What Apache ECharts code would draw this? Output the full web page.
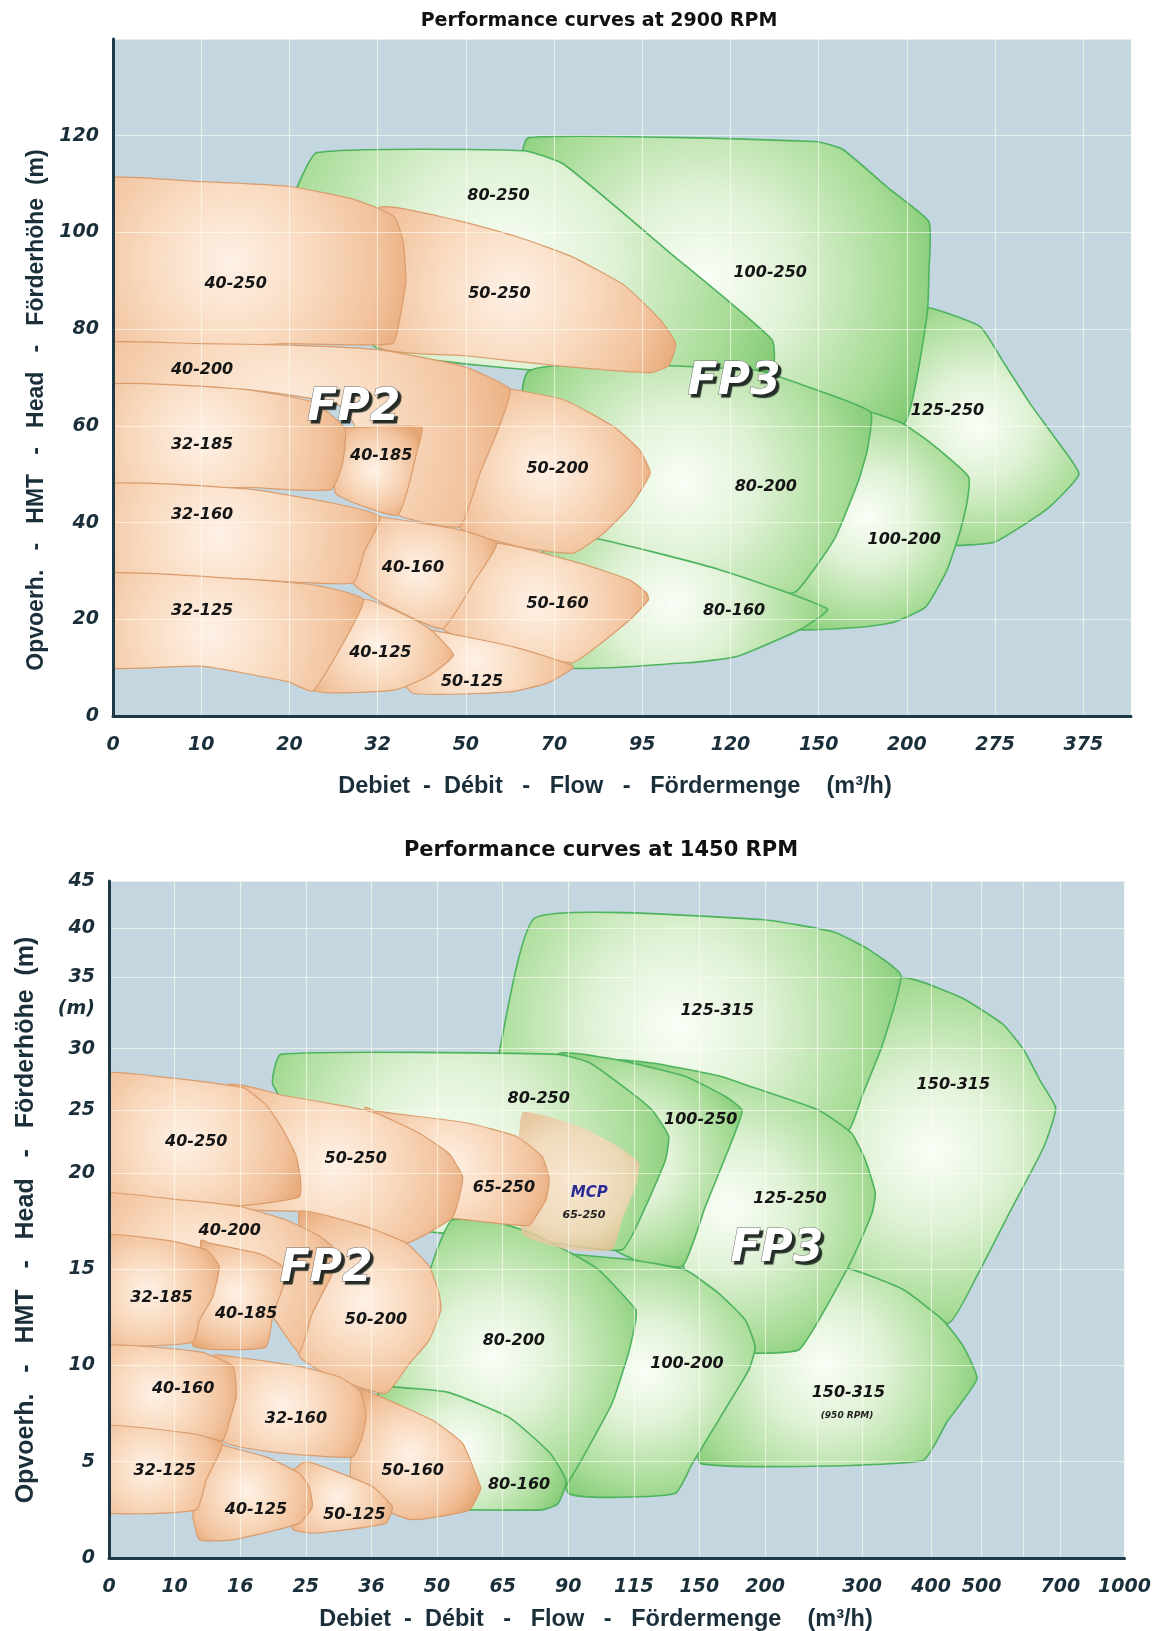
<!DOCTYPE html>
<html><head><meta charset="utf-8">
<script src="https://cdn.jsdelivr.net/npm/echarts@6/dist/echarts.min.js"></script>
<style>html,body{margin:0;padding:0;background:#fff}#c{width:1154px;height:1631px}</style>
</head><body><div id="c"></div>
<script>
// ===== Top chart (2900 RPM): x = position of flow tick (0..11), y = head (m) =====
const topXLabels = ['0','10','20','32','50','70','95','120','150','200','275','375'];

const T_125_250 = [[8.9,85],[9.3,84.2],[9.83,80.5],[10.1,73],[10.4,64.5],[10.7,57],[10.95,50],[10.6,43],[10.0,36],[9.5,35.2],[9.1,35.2],[8.85,50]];
const T_100_250 = [[4.6,112],[4.71,119.6],[7.96,118.8],[8.27,117.2],[8.8,109],[9.25,102.2],[9.25,92],[9.23,83.3],[9.12,70.7],[8.96,60.4],[7.5,63],[5.5,68],[4.6,90]];
const T_100_200 = [[8.0,64],[8.59,62.8],[8.96,60.4],[9.3,56],[9.7,49.4],[9.68,44],[9.6,38],[9.45,30],[9.21,22.5],[8.85,19.4],[8.5,18.4],[7.6,18.4],[7.6,40]];
const T_80_250 = [[2.0,104],[2.06,108.2],[2.31,116.5],[4.66,116.9],[5.11,114.1],[6.3,96],[7.47,77.8],[7.47,71.5],[6.0,70],[3.0,76]];
const T_80_200 = [[4.71,71.3],[7.29,71.5],[7.96,67.5],[8.59,62.8],[8.55,55],[8.45,48.6],[8.18,36.7],[7.74,25.7],[7.3,25],[5.5,32],[4.71,40]];
const T_80_160 = [[4.9,36.5],[5.47,36.7],[6.85,30.4],[8.1,22.1],[7.8,18],[7.07,12.3],[6.5,11],[4.9,10.7]];
const T_50_250 = [[3.0,105],[3.9,102.5],[4.6,99],[5.2,95],[5.8,89],[6.2,82],[6.38,77],[6.3,72.5],[6.1,71],[5.0,72.5],[4.0,74.5],[3.0,76.5]];
const T_50_200 = [[4.3,68],[4.54,67.5],[5.11,65.4],[5.67,59.9],[5.97,55],[6.09,50.2],[5.86,43.3],[5.56,37.8],[5.22,33.7],[4.6,35],[3.9,39.5],[4.0,65]];
const T_50_160 = [[4.35,35.7],[5.29,31.6],[5.86,28.1],[6.05,25.4],[6.07,24],[5.86,19.9],[5.48,14.3],[5.2,11],[4.4,14],[3.74,18],[3.9,30]];
const T_50_125 = [[3.3,18],[3.59,17.8],[4.54,14.3],[5.22,10.2],[4.92,6.8],[4.5,5],[3.4,4.7],[3.2,10]];
const T_40_250 = [[-0.3,110.5],[1,110.5],[2,109.5],[2.7,107],[3,105],[3.2,103],[3.29,98],[3.32,90],[3.25,82],[3.17,77],[2,77],[-0.3,77]];
const T_40_200 = [[-0.3,77],[1,77],[2,76.7],[3.03,75.7],[3.97,72.3],[4.5,67.5],[4.35,58.5],[4.16,50.2],[3.93,39.2],[3.23,41.6],[3.0,50],[2.6,64],[1.5,67.5],[-0.3,68]];
const T_40_185 = [[2.5,60],[2.65,59.6],[3.5,59.8],[3.45,55],[3.23,41.6],[2.52,46.1],[2.55,55]];
const T_40_160 = [[2.72,42],[3.03,41.2],[3.93,38.5],[4.35,35.7],[4.1,28],[3.74,18.1],[3.2,22],[2.72,27.5]];
const T_40_125 = [[2.84,24],[3.3,21],[3.59,18],[3.86,12.6],[3.6,8.5],[3.2,5.4],[2.27,5.4]];
const T_32_185 = [[-0.3,68],[1.46,67.6],[2.27,64.9],[2.63,59.4],[2.6,52],[2.47,46.8],[1.5,47.3],[-0.3,47.5]];
const T_32_160 = [[-0.3,47.5],[1.5,47],[2.5,44],[3.03,41.2],[2.85,34],[2.72,27.5],[1.5,28.3],[-0.3,29]];
const T_32_125 = [[-0.3,29],[1.5,28.3],[2.3,27],[2.84,24],[2.27,5.2],[1.98,7.1],[1,10.3],[-0.3,10.5]];

// back-to-front drawing order
const topShapes = [T_125_250,T_100_250,T_100_200,T_80_250,T_80_200,T_80_160,T_50_250,T_50_200,T_50_160,T_50_125,T_40_250,T_40_200,T_40_185,T_40_160,T_40_125,T_32_185,T_32_160,T_32_125];
const topFamilies = ['FP3','FP3','FP3','FP3','FP3','FP3','FP2','FP2','FP2','FP2','FP2','FP2','FP2','FP2','FP2','FP2','FP2','FP2'];

const topLabelNames = ['80-250','40-250','50-250','100-250','40-200','125-250','32-185','40-185','50-200','80-200','100-200','32-160','40-160','50-160','80-160','32-125','40-125','50-125'];
const topLabelX = [4.37,1.39,4.38,7.45,1.01,9.46,1.01,3.04,5.04,7.40,8.97,1.01,3.40,5.04,7.04,1.01,3.03,4.07];
const topLabelY = [107.5,89.4,87.3,91.6,71.6,63.2,56.0,53.7,51.1,47.3,36.5,41.7,30.6,23.2,21.8,21.7,13.1,7.1];
const topBigNames = ['FP2','FP3'];
const topBigX = [2.73,7.04];
const topBigY = [63.5,69.0];

// ===== Bottom chart (1450 RPM): x,y = positions on the non-uniform tick scales =====
const botXLabels = ['0','10','16','25','36','50','65','90','115','150','200','','300','400','500','','700','1000'];
const botXTickPos = [0,1,2,3,4,5,6,7,8,9,10,10.80,11.48,12.53,13.30,13.94,14.50,15.48];
const botYLabels = ['0','5','10','15','20','25','30','35','40','45'];
const botYTickPos = [0,1,2,3,4,4.65,5.29,6.03,6.54,7.03];
const botYUnitPos = 5.70; // "(m)"

const B_150_315U = [[11.0,4.4],[12.07,6.02],[12.4,5.98],[13.02,5.81],[13.63,5.54],[13.94,5.28],[14.19,4.96],[14.43,4.67],[14.25,4.27],[13.76,3.63],[13.2,2.89],[12.8,2.44],[11.5,2.6],[11.0,3.0]];
const B_150_315L = [[9.5,2.9],[10.56,3.02],[11.3,3.0],[12.1,2.79],[12.71,2.47],[13.02,2.2],[13.23,1.86],[12.77,1.41],[12.4,1.01],[9.02,0.98],[9.0,1.5]];
const B_125_315 = [[5.94,5.23],[6.5,6.65],[9.94,6.63],[11.05,6.5],[11.6,6.31],[12.07,6.05],[11.79,5.33],[11.48,4.8],[11.27,4.44],[10.5,4.4],[7,4.6],[5.9,5.0]];
const B_125_250 = [[7.6,5.15],[8.28,5.14],[9.33,5.0],[9.8,4.89],[10.82,4.65],[11.32,4.41],[11.53,4.13],[11.68,3.79],[11.63,3.58],[11.32,3.09],[10.82,2.47],[10.51,2.16],[9.8,2.13],[9.2,2.3],[8.5,3.5]];
const B_100_250 = [[6.5,4.8],[6.86,5.24],[7.77,5.17],[8.79,5.0],[9.4,4.79],[9.65,4.65],[9.5,4.34],[9.09,3.65],[8.74,3.03],[8.0,3.1],[7.0,3.5]];
const B_100_200 = [[6.8,3.2],[7.01,3.16],[8.03,3.09],[8.79,2.99],[9.29,2.75],[9.7,2.47],[9.85,2.19],[9.75,1.95],[9.29,1.43],[8.89,0.98],[8.63,0.67],[7.01,0.67],[6.8,1.5]];
const B_80_250 = [[2.5,4.91],[2.62,5.23],[6.84,5.23],[7.3,5.15],[7.77,4.93],[8.28,4.65],[8.53,4.38],[8.48,4.13],[8.18,3.65],[7.82,3.2],[6.5,3.3],[4,3.5]];
const B_80_200 = [[5.0,3.2],[5.23,3.51],[5.95,3.48],[6.45,3.37],[7.06,3.16],[7.47,2.99],[8.03,2.58],[8.03,2.47],[7.92,2.13],[7.67,1.61],[7.26,1.09],[6.96,0.74],[6.87,0.66],[5.5,0.66],[4.5,1.0],[4.1,1.72],[4.6,2.4]];
const B_80_160 = [[4.1,1.75],[4.24,1.78],[5.17,1.72],[6.1,1.46],[6.72,1.09],[6.97,0.8],[6.84,0.56],[6.6,0.5],[5.54,0.5],[4.3,0.5]];
const B_MCP = [[6.3,4.62],[7.17,4.48],[7.77,4.27],[8.08,4.1],[8.03,3.86],[7.82,3.51],[7.67,3.2],[7.01,3.2],[6.3,3.37]];
const B_65_250 = [[3.9,4.68],[4.07,4.64],[5.44,4.52],[6.2,4.38],[6.6,4.17],[6.71,3.93],[6.66,3.72],[6.5,3.54],[6.4,3.45],[5.23,3.53],[4.5,3.6]];
const B_50_250 = [[1.81,4.91],[2.68,4.8],[3.61,4.69],[4.07,4.62],[4.73,4.41],[5.18,4.2],[5.39,3.96],[5.34,3.75],[5.23,3.53],[4.53,3.27],[3.92,3.44],[2.9,3.6],[2.0,3.65]];
const B_50_200 = [[2.9,3.6],[3.92,3.44],[4.53,3.27],[4.88,3.03],[5.03,2.75],[5.06,2.58],[4.88,2.26],[4.58,2.02],[4.22,1.71],[3.5,1.85],[2.9,2.1],[3.0,3.0]];
const B_50_160 = [[3.8,1.75],[4.02,1.71],[4.93,1.43],[5.39,1.19],[5.64,0.78],[5.67,0.72],[5.49,0.5],[4.6,0.4],[3.7,0.7]];
const B_50_125 = [[2.8,0.9],[3.0,1.0],[3.41,0.91],[4.02,0.74],[4.32,0.53],[4.22,0.36],[3.15,0.26],[2.8,0.3]];
const B_40_250 = [[-0.3,5.02],[1,4.98],[1.81,4.91],[2.06,4.88],[2.4,4.7],[2.65,4.45],[2.85,4.18],[2.92,3.93],[2.9,3.75],[2,3.66],[-0.3,3.79]];
const B_40_200 = [[-0.3,3.79],[0.94,3.73],[1.99,3.65],[2.7,3.51],[3.21,3.34],[3.51,3.16],[3.36,2.89],[3.1,2.54],[2.9,2.13],[2.5,2.5],[1.5,3.2],[-0.3,3.3]];
const B_40_185 = [[1.4,3.3],[1.53,3.27],[2.29,3.16],[2.7,3.0],[2.62,2.75],[2.5,2.54],[2.39,2.19],[1.28,2.2],[1.4,2.8]];
const B_32_185 = [[-0.3,3.34],[0.87,3.3],[1.48,3.2],[1.68,3.03],[1.58,2.71],[1.38,2.47],[1.28,2.24],[0.5,2.2],[-0.3,2.19]];
const B_32_160 = [[1.6,2.1],[1.89,2.09],[2.9,1.99],[3.51,1.88],[3.82,1.74],[3.92,1.5],[3.86,1.26],[3.71,1.05],[2.5,1.1],[1.73,1.22]];
const B_40_160 = [[-0.3,2.19],[1.38,2.14],[1.89,1.99],[1.94,1.68],[1.84,1.43],[1.73,1.22],[1,1.3],[-0.3,1.36]];
const B_40_125 = [[1.6,1.2],[1.79,1.16],[2.39,1.05],[2.9,0.88],[3.05,0.74],[3.1,0.53],[2.9,0.36],[1.89,0.19],[1.38,0.19],[1.28,0.46]];
const B_32_125 = [[-0.3,1.36],[1.28,1.29],[1.73,1.19],[1.48,0.81],[1.33,0.5],[-0.3,0.5]];

const botShapes = [B_150_315U,B_150_315L,B_125_315,B_125_250,B_100_250,B_100_200,B_80_250,B_80_200,B_80_160,B_MCP,B_65_250,B_50_250,B_50_200,B_50_160,B_50_125,B_40_250,B_40_200,B_40_185,B_32_185,B_32_160,B_40_160,B_40_125,B_32_125];
const botFamilies = ['FP3','FP3','FP3','FP3','FP3','FP3','FP3','FP3','FP3','MCP','FP2','FP2','FP2','FP2','FP2','FP2','FP2','FP2','FP2','FP2','FP2','FP2','FP2'];

const botLabelNames = ['125-315','150-315','80-250','100-250','40-250','50-250','65-250','125-250','40-200','32-185','40-185','50-200','80-200','100-200','40-160','32-160','150-315','32-125','50-160','80-160','40-125','50-125'];
const botLabelX = [9.27,12.87,6.55,9.02,1.33,3.76,6.02,10.38,1.84,0.80,2.09,4.07,6.17,8.81,1.13,2.85,11.27,0.85,4.63,6.25,2.24,3.74];
const botLabelY = [5.68,4.91,4.77,4.55,4.32,4.14,3.84,3.73,3.40,2.70,2.54,2.47,2.26,2.02,1.76,1.45,1.71,0.91,0.91,0.76,0.50,0.45];
const botSmallNames = ['MCP','65-250','(950 RPM)'];
const botSmallX = [7.32,7.24,11.25];
const botSmallY = [3.79,3.56,1.48];
const botBigNames = ['FP2','FP3'];
const botBigX = [3.31,10.18];
const botBigY = [2.99,3.20];

// ===== styling / rendering =====
const AXC = '#1E3A48';
const TXT = '#1B2F3A';
const GRIDC = 'rgba(255,255,245,0.6)';
const ORANGE = [[0,'#FEF1E6'],[0.4,'#F9DBC1'],[0.75,'#F2C39E'],[1,'#E6A673']];
const GREEN = [[0,'#FAFEF7'],[0.35,'#E0F2D6'],[0.75,'#A9DC98'],[1,'#7CC86F']];
const MCPC = [[0,'rgba(250,230,210,0.95)'],[0.6,'rgba(244,216,186,0.85)'],[1,'rgba(230,182,138,0.75)']];

function regionRender(shapes, fams) {
  return function (params, api) {
    const i = params.dataIndex;
    const pts = shapes[i].map(p => api.coord(p));
    let x0 = 1e9, x1 = -1e9, y0 = 1e9, y1 = -1e9;
    pts.forEach(p => { x0 = Math.min(x0, p[0]); x1 = Math.max(x1, p[0]); y0 = Math.min(y0, p[1]); y1 = Math.max(y1, p[1]); });
    const w = x1 - x0, h = y1 - y0;
    const fam = fams[i];
    const stops = fam === 'FP3' ? GREEN : (fam === 'MCP' ? MCPC : ORANGE);
    const grad = new echarts.graphic.RadialGradient(x0 + 0.45 * w, y0 + 0.5 * h, 0.62 * Math.max(w, h),
      stops.map(s => ({ offset: s[0], color: s[1] })), true);
    return {
      type: 'polygon',
      shape: { points: pts, smooth: 0.15 },
      style: {
        fill: grad,
        stroke: fam === 'FP3' ? '#4DB35E' : (fam === 'MCP' ? 'rgba(0,0,0,0)' : '#DA9C6C'),
        lineWidth: fam === 'FP3' ? 1.6 : 1.2
      }
    };
  };
}

function labelRender(names, kind) {
  return function (params, api) {
    const p = api.coord([api.value(0), api.value(1)]);
    const t = names[params.dataIndex];
    if (kind === 'big') {
      return { type: 'text', x: p[0], y: p[1], style: {
        text: t, fill: '#FFFFFF', stroke: '#6E6E6E', lineWidth: 1,
        font: 'italic bold 44px "DejaVu Sans"', align: 'center', verticalAlign: 'middle',
        textShadowColor: 'rgba(25,35,30,0.95)', textShadowOffsetX: 3, textShadowOffsetY: 3, textShadowBlur: 1 } };
    }
    if (kind === 'small') {
      let font = 'italic bold 11px "DejaVu Sans"', fill = '#222', stroke = null, lw = 0;
      if (t === 'MCP') { font = 'italic bold 15px "DejaVu Sans"'; fill = '#2B2C8C'; stroke = '#F4E0F0'; lw = 1; }
      if (t === '(950 RPM)') { font = 'italic bold 9px "DejaVu Sans"'; }
      return { type: 'text', x: p[0], y: p[1], style: { text: t, fill: fill, stroke: stroke, lineWidth: lw, font: font, align: 'center', verticalAlign: 'middle' } };
    }
    return { type: 'text', x: p[0], y: p[1], style: {
      text: t, fill: '#151515', font: 'italic bold 16px "DejaVu Sans"', align: 'center', verticalAlign: 'middle' } };
  };
}

const axisLbl = { color: TXT, fontSize: 19, fontWeight: 'bold', fontStyle: 'italic', fontFamily: 'DejaVu Sans' };
function near(a, b) { return Math.abs(a - b) < 1e-3; }

const chart = echarts.init(document.getElementById('c'), null, { renderer: 'canvas', width: 1154, height: 1631 });

const botXLabelPos = botXTickPos.filter((p, i) => botXLabels[i] !== '');
const xTitle = 'Debiet  -  Débit   -   Flow   -   Fördermenge    (m³/h)';
const yTitle = 'Opvoerh.   -   HMT   -   Head   -   Förderhöhe  (m)';

chart.setOption({
  animation: false,
  backgroundColor: '#FFFFFF',
  grid: [
    { left: 113, right: 23, top: 39, height: 677, show: true, backgroundColor: '#C4D6DF', borderWidth: 0 },
    { left: 109, right: 27, top: 881, height: 677, show: true, backgroundColor: '#C4D6DF', borderWidth: 0 }
  ],
  xAxis: [
    { gridIndex: 0, type: 'value', min: 0, max: 11.54, interval: 1, z: 3,
      axisLine: { show: true, onZero: false, lineStyle: { color: AXC, width: 3 } },
      axisTick: { show: false },
      splitLine: { show: true, lineStyle: { color: GRIDC, width: 1.2 } },
      axisLabel: Object.assign({ margin: 20, showMaxLabel: false,
        formatter: v => near(v, Math.round(v)) ? (topXLabels[Math.round(v)] || '') : '' }, axisLbl) },
    { gridIndex: 1, type: 'value', min: 0, max: 15.48, z: 3,
      axisLine: { show: true, onZero: false, lineStyle: { color: AXC, width: 3 } },
      axisTick: { show: false, customValues: botXTickPos },
      splitLine: { show: true, lineStyle: { color: GRIDC, width: 1.2 } },
      axisLabel: Object.assign({ margin: 20, customValues: botXLabelPos,
        formatter: v => { const i = botXTickPos.findIndex(p => near(p, v)); return i >= 0 ? botXLabels[i] : ''; } }, axisLbl) }
  ],
  yAxis: [
    { gridIndex: 0, type: 'value', min: 0, max: 140, interval: 20, z: 3,
      axisLine: { show: true, onZero: false, lineStyle: { color: AXC, width: 3 } },
      axisTick: { show: false },
      splitLine: { show: true, lineStyle: { color: GRIDC, width: 1.2 } },
      axisLabel: Object.assign({ margin: 14, showMaxLabel: false, formatter: v => (v >= 140 ? '' : String(v)) }, axisLbl) },
    { gridIndex: 1, type: 'value', min: 0, max: 7.03, z: 3,
      axisLine: { show: true, onZero: false, lineStyle: { color: AXC, width: 3 } },
      axisTick: { show: false, customValues: botYTickPos },
      splitLine: { show: true, lineStyle: { color: GRIDC, width: 1.2 } },
      axisLabel: Object.assign({ margin: 14, customValues: botYTickPos.concat([botYUnitPos]),
        formatter: v => { if (near(v, botYUnitPos)) return '(m)'; const i = botYTickPos.findIndex(p => near(p, v)); return i >= 0 ? botYLabels[i] : ''; } }, axisLbl) }
  ],
  graphic: [
    { type: 'text', x: 599, y: 21, style: { text: 'Performance curves at 2900 RPM', font: 'bold 19px "DejaVu Sans"', fill: '#111', align: 'center', verticalAlign: 'middle' } },
    { type: 'text', x: 601, y: 851, style: { text: 'Performance curves at 1450 RPM', font: 'bold 21px "DejaVu Sans"', fill: '#111', align: 'center', verticalAlign: 'middle' } },
    { type: 'text', x: 615, y: 787, style: { text: xTitle, font: 'bold 23.5px "Liberation Sans"', fill: TXT, align: 'center', verticalAlign: 'middle' } },
    { type: 'text', x: 596, y: 1620, style: { text: xTitle, font: 'bold 23.5px "Liberation Sans"', fill: TXT, align: 'center', verticalAlign: 'middle' } },
    { type: 'text', x: 37, y: 410, rotation: Math.PI / 2, style: { text: yTitle, font: 'bold 23px "Liberation Sans"', fill: TXT, align: 'center', verticalAlign: 'middle' } },
    { type: 'text', x: 26, y: 1220, rotation: Math.PI / 2, style: { text: yTitle, font: 'bold 25px "Liberation Sans"', fill: TXT, align: 'center', verticalAlign: 'middle' } }
  ],
  series: [
    { type: 'custom', name: 'top regions', xAxisIndex: 0, yAxisIndex: 0, z: 2, silent: true, clip: true,
      renderItem: regionRender(topShapes, topFamilies), data: topShapes.map(s => s[1]) },
    { type: 'custom', name: 'top labels', xAxisIndex: 0, yAxisIndex: 0, z: 5, silent: true,
      renderItem: labelRender(topLabelNames, 'normal'), data: topLabelNames.map((n, i) => [topLabelX[i], topLabelY[i]]) },
    { type: 'custom', name: 'top families', xAxisIndex: 0, yAxisIndex: 0, z: 6, silent: true,
      renderItem: labelRender(topBigNames, 'big'), data: topBigNames.map((n, i) => [topBigX[i], topBigY[i]]) },
    { type: 'custom', name: 'bottom regions', xAxisIndex: 1, yAxisIndex: 1, z: 2, silent: true, clip: true,
      renderItem: regionRender(botShapes, botFamilies), data: botShapes.map(s => s[1]) },
    { type: 'custom', name: 'bottom labels', xAxisIndex: 1, yAxisIndex: 1, z: 5, silent: true,
      renderItem: labelRender(botLabelNames, 'normal'), data: botLabelNames.map((n, i) => [botLabelX[i], botLabelY[i]]) },
    { type: 'custom', name: 'bottom small labels', xAxisIndex: 1, yAxisIndex: 1, z: 5, silent: true,
      renderItem: labelRender(botSmallNames, 'small'), data: botSmallNames.map((n, i) => [botSmallX[i], botSmallY[i]]) },
    { type: 'custom', name: 'bottom families', xAxisIndex: 1, yAxisIndex: 1, z: 6, silent: true,
      renderItem: labelRender(botBigNames, 'big'), data: botBigNames.map((n, i) => [botBigX[i], botBigY[i]]) }
  ]
});
</script></body></html>
